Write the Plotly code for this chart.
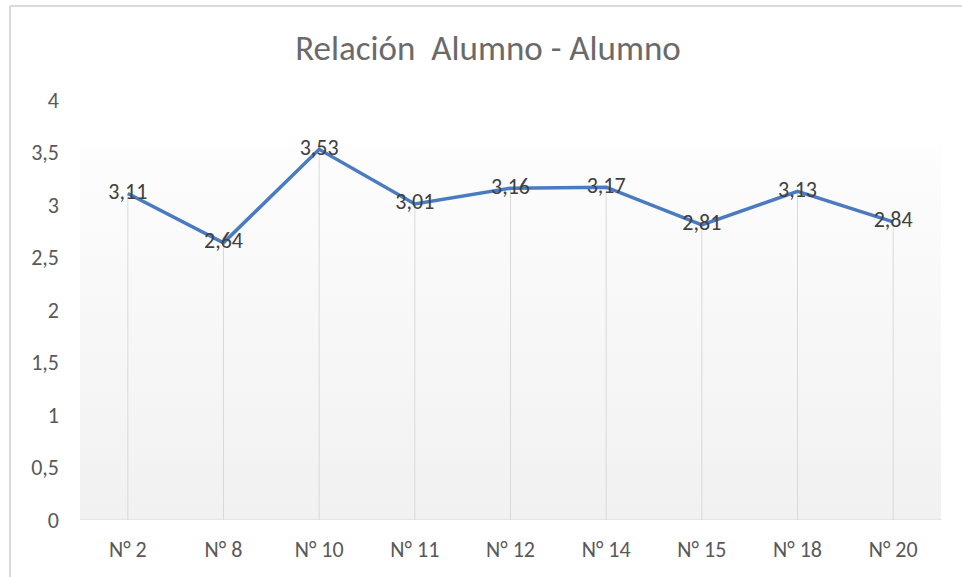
import plotly.graph_objects as go

categories = ["N° 2", "N° 8", "N° 10", "N° 11", "N° 12", "N° 14", "N° 15", "N° 18", "N° 20"]
values = [3.11, 2.64, 3.53, 3.01, 3.16, 3.17, 2.81, 3.13, 2.84]
y_ticks = [0, 0.5, 1, 1.5, 2, 2.5, 3, 3.5, 4]
title_text = "Relación  Alumno - Alumno"

idx = list(range(len(categories)))
n = len(categories)

W, H = 962, 577
L, R, T, B = 80, 21, 100, 57
pw, ph = W - L - R, H - T - B
FONT = "Carlito, Open Sans"

fig = go.Figure()

# background gradient fill of plot area
fill_top = 3.55
fig.add_trace(go.Scatter(
    x=[-0.5, n - 0.5, n - 0.5, -0.5, -0.5],
    y=[0, 0, fill_top, fill_top, 0],
    mode="lines", line=dict(width=0), fill="toself",
    fillgradient=dict(type="vertical", start=0, stop=fill_top,
                      colorscale=[[0, "#f1f1f1"], [1, "#fdfdfd"]]),
    hoverinfo="skip", showlegend=False,
))

# drop lines
dx, dy = [], []
for i, v in zip(idx, values):
    dx += [i, i, None]
    dy += [0, v, None]
fig.add_trace(go.Scatter(x=dx, y=dy, mode="lines",
                         line=dict(color="#d9d9d9", width=1),
                         hoverinfo="skip", showlegend=False))

# main line
fig.add_trace(go.Scatter(
    x=idx, y=values, mode="lines+text",
    line=dict(color="#4a7ac0", width=3.5),
    text=[f"{v:.2f}".replace(".", ",") for v in values],
    textposition="middle center",
    textfont=dict(family=FONT, size=22, color="#404040"),
    showlegend=False,
))

fig.update_layout(
    width=W, height=H,
    margin=dict(l=L, r=R, t=T, b=B),
    paper_bgcolor="white", plot_bgcolor="rgba(0,0,0,0)",
    separators=",.",
    title=dict(text=title_text, x=488 / W, xanchor="center", y=1 - 48 / H, yanchor="middle",
               font=dict(family=FONT, size=35, color="#6a6a6a")),
    font=dict(family=FONT, color="#595959", size=22),
    xaxis=dict(range=[-0.5, n - 0.5], tickvals=idx, ticktext=categories,
               showgrid=False, zeroline=False, showline=False, ticks="",
               tickfont=dict(size=22, color="#595959"), ticklabelstandoff=14),
    yaxis=dict(range=[0, 4], tickvals=y_ticks, showgrid=False, zeroline=False,
               showline=False, ticks="", tickfont=dict(size=22, color="#595959"),
               ticklabelstandoff=20),
    shapes=[
        dict(type="line", xref="paper", yref="y", x0=0, x1=1.001, y0=0, y1=0,
             line=dict(color="#d9d9d9", width=1.2)),
        dict(type="line", xref="paper", yref="paper",
             x0=(10 - L) / pw, x1=(10 - L) / pw, y0=(H - B - 6) / ph, y1=-(B + 5) / ph,
             line=dict(color="#d9d9d9", width=2)),
        dict(type="line", xref="paper", yref="paper",
             x0=(10 - L) / pw, x1=(W + 5 - L) / pw, y0=(H - B - 6) / ph, y1=(H - B - 6) / ph,
             line=dict(color="#d9d9d9", width=2)),
    ],
)

fig.write_html("out.html", config={"displayModeBar": False},
               post_script="document.body.style.margin='0';document.body.style.overflow='hidden';")
